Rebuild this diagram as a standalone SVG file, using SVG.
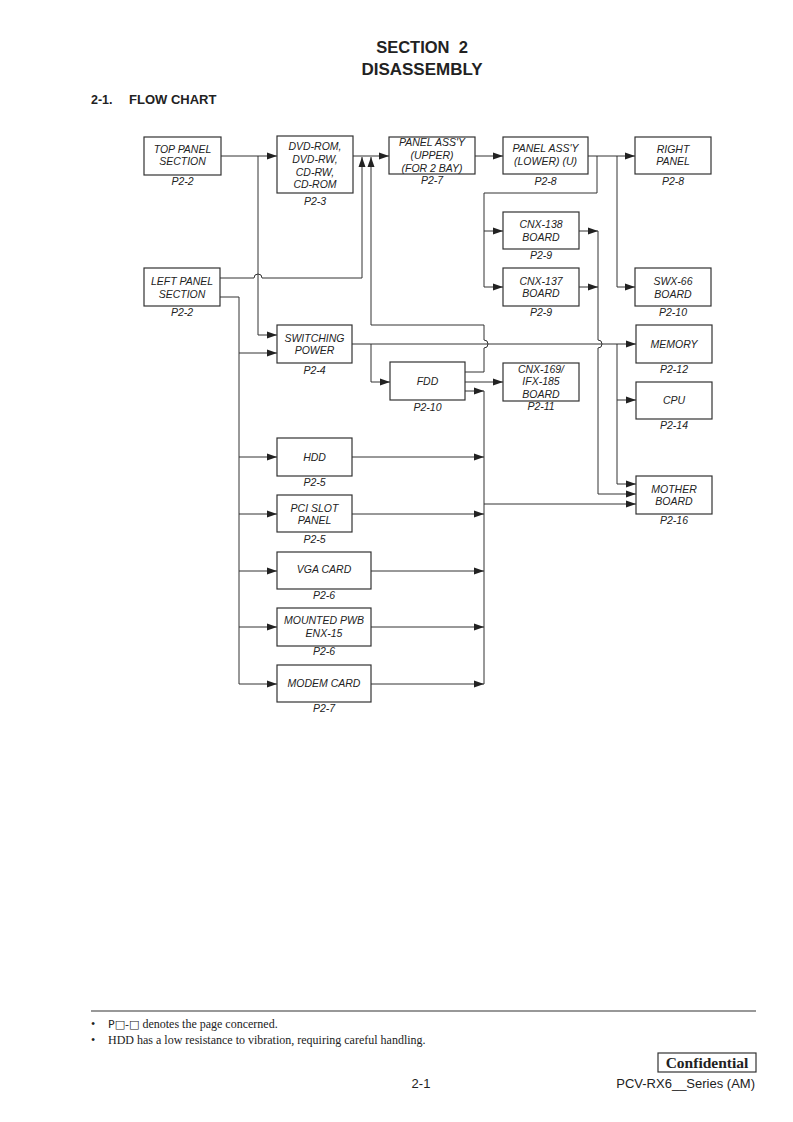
<svg xmlns="http://www.w3.org/2000/svg" width="793" height="1122" viewBox="0 0 793 1122">
<style>
.bx{fill:#fff;stroke:#333;stroke-width:1.2}
.t{font-family:"Liberation Sans",Arial,sans-serif;font-style:italic;font-size:10.5px;fill:#222;text-anchor:middle}
.c{fill:none;stroke:#333;stroke-width:1}
.a{marker-end:url(#ah)}
.h{font-family:"Liberation Sans",Arial,sans-serif;font-weight:bold;fill:#222}
.f{font-family:"Liberation Serif","Times New Roman",serif;font-size:12px;fill:#222}
</style>
<defs>
<marker id="ah" markerWidth="10" markerHeight="8" refX="10" refY="4" orient="auto" markerUnits="userSpaceOnUse">
<path d="M0,0.5 L10,4 L0,7.5z" fill="#222"/>
</marker>
</defs>
<rect width="793" height="1122" fill="#fff"/>

<g id="title">
<text class="h" x="422" y="53" font-size="16.5" text-anchor="middle" xml:space="preserve">SECTION  2</text>
<text class="h" x="422" y="75" font-size="17" text-anchor="middle">DISASSEMBLY</text>
<text class="h" x="91" y="104" font-size="12.5">2-1.</text>
<text class="h" x="129" y="104" font-size="13">FLOW CHART</text>
</g>

<g id="connectors">
<path class="c a" d="M221,156 H277"/>
<path class="c a" d="M258,156 V335 H277"/>
<path class="c a" d="M220,278 H254 a4,4 0 0 1 8,0 H362 V157"/>
<path class="c a" d="M353,156 H389"/>
<path class="c a" d="M465,372 H484 V348 a4,4 0 0 0 0,-8 V325 H371 V157"/>
<path class="c a" d="M352,344 H636"/>
<path class="c a" d="M371,344 V382 H390"/>
<path class="c a" d="M617,344 V484 H636"/>
<path class="c a" d="M617,400 H636"/>
<path class="c a" d="M465,382 H503"/>
<path class="c a" d="M465,391 H484"/>
<path class="c" d="M484,391 V684"/>
<path class="c a" d="M484,504 H636"/>
<path class="c a" d="M352,457 H484"/>
<path class="c a" d="M352,514 H484"/>
<path class="c a" d="M371,571 H484"/>
<path class="c a" d="M371,627 H484"/>
<path class="c a" d="M371,684 H484"/>
<path class="c a" d="M220,297 H239 V684 H277"/>
<path class="c a" d="M239,353 H277"/>
<path class="c a" d="M239,457 H277"/>
<path class="c a" d="M239,514 H277"/>
<path class="c a" d="M239,571 H277"/>
<path class="c a" d="M239,627 H277"/>
<path class="c a" d="M475,156 H503"/>
<path class="c a" d="M588,156 H635"/>
<path class="c a" d="M597,156 V193 H484 V287 H503"/>
<path class="c a" d="M484,231 H503"/>
<path class="c a" d="M617,156 V287 H635"/>
<path class="c a" d="M579,231 H598"/>
<path class="c a" d="M579,287 H598"/>
<path class="c a" d="M598,231 V340 a4,4 0 0 1 0,8 V494 H636"/>
</g>

<g id="top-panel">
<rect class="bx" x="144" y="137" width="77" height="38"/>
<text class="t" x="182.5" y="153">TOP PANEL</text>
<text class="t" x="182.5" y="165">SECTION</text>
<text class="t" x="182.5" y="185">P2-2</text>
</g>
<g id="dvd-rom">
<rect class="bx" x="277" y="136" width="76" height="57"/>
<text class="t" x="315" y="150">DVD-ROM,</text>
<text class="t" x="315" y="163">DVD-RW,</text>
<text class="t" x="315" y="176">CD-RW,</text>
<text class="t" x="315" y="188">CD-ROM</text>
<text class="t" x="315" y="205">P2-3</text>
</g>
<g id="panel-upper">
<rect class="bx" x="389" y="137" width="86" height="37"/>
<text class="t" x="432" y="146">PANEL ASS'Y</text>
<text class="t" x="432" y="159">(UPPER)</text>
<text class="t" x="432" y="172">(FOR 2 BAY)</text>
<text class="t" x="432" y="184">P2-7</text>
</g>
<g id="panel-lower">
<rect class="bx" x="503" y="137" width="85" height="37"/>
<text class="t" x="545.5" y="152">PANEL ASS'Y</text>
<text class="t" x="545.5" y="165">(LOWER) (U)</text>
<text class="t" x="545.5" y="185">P2-8</text>
</g>
<g id="right-panel">
<rect class="bx" x="635" y="137" width="76" height="37"/>
<text class="t" x="673" y="153">RIGHT</text>
<text class="t" x="673" y="165">PANEL</text>
<text class="t" x="673" y="185">P2-8</text>
</g>
<g id="cnx-138">
<rect class="bx" x="503" y="212" width="76" height="37"/>
<text class="t" x="541" y="228">CNX-138</text>
<text class="t" x="541" y="241">BOARD</text>
<text class="t" x="541" y="259">P2-9</text>
</g>
<g id="cnx-137">
<rect class="bx" x="503" y="268" width="76" height="38"/>
<text class="t" x="541" y="285">CNX-137</text>
<text class="t" x="541" y="297">BOARD</text>
<text class="t" x="541" y="316">P2-9</text>
</g>
<g id="swx-66">
<rect class="bx" x="635" y="268" width="76" height="38"/>
<text class="t" x="673" y="285">SWX-66</text>
<text class="t" x="673" y="298">BOARD</text>
<text class="t" x="673" y="316">P2-10</text>
</g>
<g id="left-panel">
<rect class="bx" x="144" y="268" width="76" height="38"/>
<text class="t" x="182" y="285">LEFT PANEL</text>
<text class="t" x="182" y="298">SECTION</text>
<text class="t" x="182" y="316">P2-2</text>
</g>
<g id="switching-power">
<rect class="bx" x="277" y="325" width="75" height="38"/>
<text class="t" x="314.5" y="342">SWITCHING</text>
<text class="t" x="314.5" y="354">POWER</text>
<text class="t" x="314.5" y="374">P2-4</text>
</g>
<g id="fdd">
<rect class="bx" x="390" y="362" width="75" height="38"/>
<text class="t" x="427.5" y="385">FDD</text>
<text class="t" x="427.5" y="411">P2-10</text>
</g>
<g id="cnx-169">
<rect class="bx" x="503" y="363" width="76" height="38"/>
<text class="t" x="541" y="373">CNX-169/</text>
<text class="t" x="541" y="385">IFX-185</text>
<text class="t" x="541" y="398">BOARD</text>
<text class="t" x="541" y="410">P2-11</text>
</g>
<g id="memory">
<rect class="bx" x="636" y="325" width="76" height="38"/>
<text class="t" x="674" y="348">MEMORY</text>
<text class="t" x="674" y="373">P2-12</text>
</g>
<g id="cpu">
<rect class="bx" x="636" y="382" width="76" height="37"/>
<text class="t" x="674" y="404">CPU</text>
<text class="t" x="674" y="429">P2-14</text>
</g>
<g id="mother-board">
<rect class="bx" x="636" y="476" width="76" height="38"/>
<text class="t" x="674" y="493">MOTHER</text>
<text class="t" x="674" y="505">BOARD</text>
<text class="t" x="674" y="524">P2-16</text>
</g>
<g id="hdd">
<rect class="bx" x="277" y="438" width="75" height="38"/>
<text class="t" x="314.5" y="461">HDD</text>
<text class="t" x="314.5" y="486">P2-5</text>
</g>
<g id="pci-slot">
<rect class="bx" x="277" y="495" width="75" height="37"/>
<text class="t" x="314.5" y="512">PCI SLOT</text>
<text class="t" x="314.5" y="524">PANEL</text>
<text class="t" x="314.5" y="543">P2-5</text>
</g>
<g id="vga-card">
<rect class="bx" x="277" y="552" width="94" height="37"/>
<text class="t" x="324" y="573">VGA CARD</text>
<text class="t" x="324" y="599">P2-6</text>
</g>
<g id="mounted-pwb">
<rect class="bx" x="277" y="608" width="94" height="38"/>
<text class="t" x="324" y="624">MOUNTED PWB</text>
<text class="t" x="324" y="637">ENX-15</text>
<text class="t" x="324" y="655">P2-6</text>
</g>
<g id="modem-card">
<rect class="bx" x="277" y="665" width="94" height="37"/>
<text class="t" x="324" y="687">MODEM CARD</text>
<text class="t" x="324" y="712">P2-7</text>
</g>

<g id="footer">
<line x1="91" y1="1011" x2="756" y2="1011" stroke="#333" stroke-width="1.2"/>
<text class="f" x="91" y="1028">•</text>
<text class="f" x="108" y="1028"><tspan font-family="'DejaVu Sans',sans-serif" font-size="11">P□-□</tspan> denotes the page concerned.</text>
<text class="f" x="91" y="1044">•</text>
<text class="f" x="108" y="1044">HDD has a low resistance to vibration, requiring careful handling.</text>
<rect x="658" y="1053" width="98" height="19" fill="none" stroke="#333" stroke-width="1.2"/>
<text x="707" y="1068" text-anchor="middle" font-family="'Liberation Serif','Times New Roman',serif" font-weight="bold" font-size="15.5" fill="#222">Confidential</text>
<text x="421" y="1088" text-anchor="middle" font-family="'Liberation Sans',Arial,sans-serif" font-size="13" fill="#222">2-1</text>
<text x="755" y="1088" text-anchor="end" font-family="'Liberation Sans',Arial,sans-serif" font-size="13" fill="#222">PCV-RX6__Series (AM)</text>
</g>
</svg>
